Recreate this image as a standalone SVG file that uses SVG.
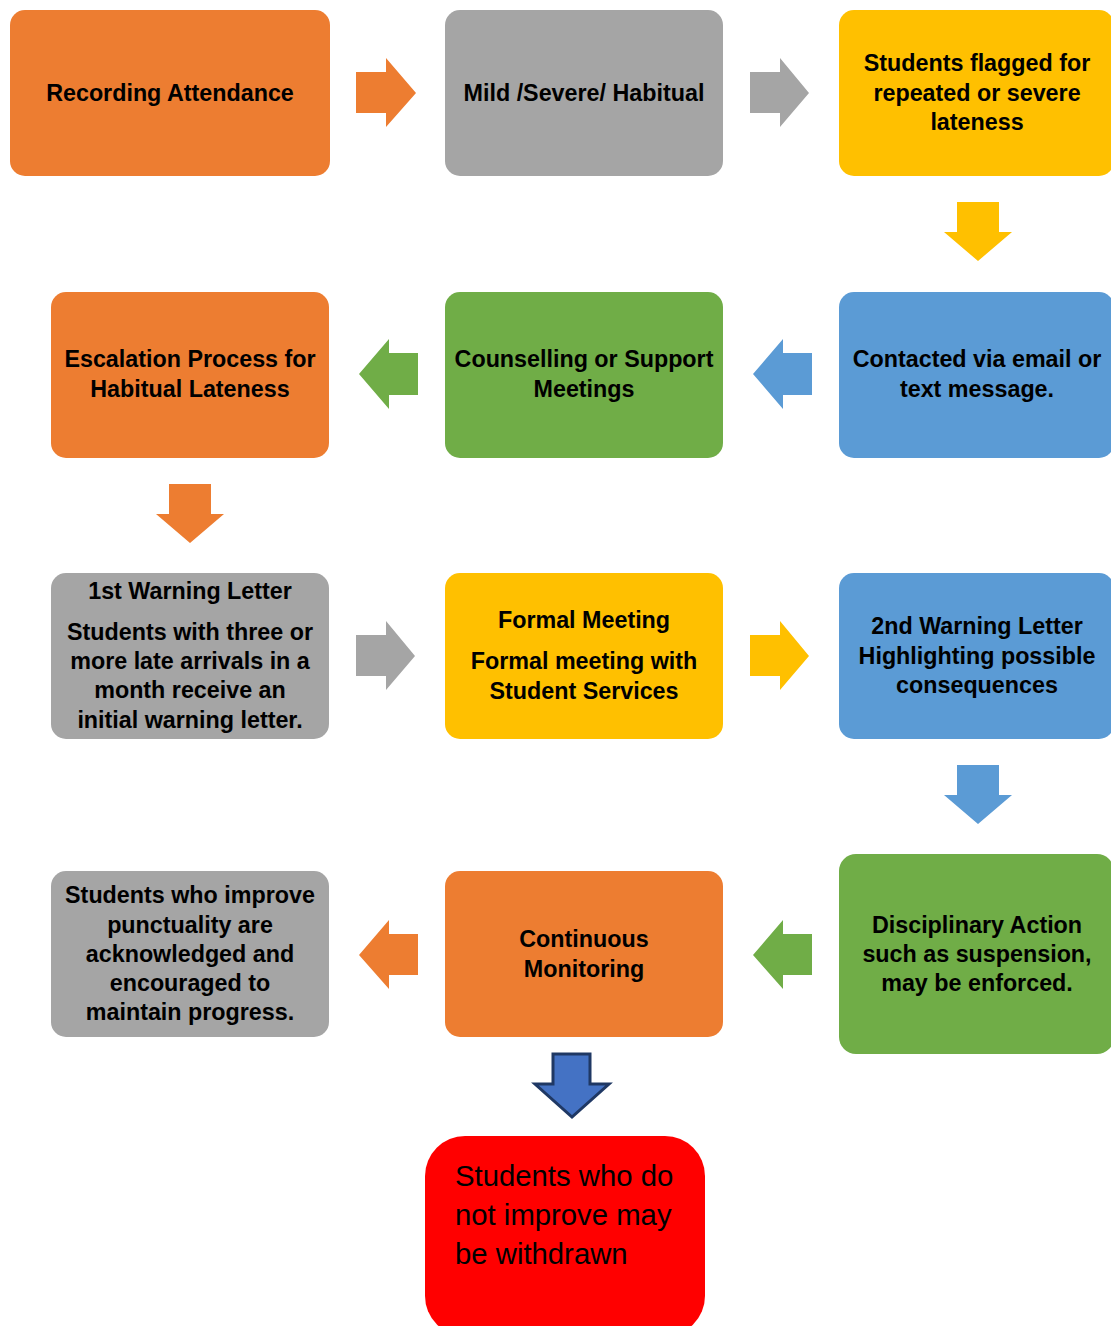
<svg xmlns="http://www.w3.org/2000/svg" width="1111" height="1326" viewBox="0 0 1111 1326">
<style>
.orange{fill:#ED7D31}.gray{fill:#A5A5A5}.yellow{fill:#FFC000}.blue{fill:#5B9BD5}.green{fill:#70AD47}.red{fill:#FF0000}
.t{font-family:"Liberation Sans",Arial,sans-serif;font-weight:bold;font-size:23.3px;fill:#000;text-anchor:middle}
.r{font-family:"Liberation Sans",Arial,sans-serif;font-size:29.3px;fill:#000}
.dn{fill:#4472C4;stroke:#1F3864;stroke-width:3;stroke-linejoin:miter}
</style>
<rect width="1111" height="1326" fill="#fff"/>
<g id="connectors">
<polygon class="orange" points="356,72 386,72 386,58 416,93 386,127 386,113 356,113"/>
<polygon class="gray" points="750,72 780,72 780,58 809,93 780,127 780,113 750,113"/>
<polygon class="yellow" points="957,202 999,202 999,232 1012,232 978,261 944,232 957,232"/>
<polygon class="blue" points="812,353 783,353 783,339 753,374 783,409 783,395 812,395"/>
<polygon class="green" points="418,353 389,353 389,339 359,374 389,409 389,395 418,395"/>
<polygon class="orange" points="169,484 211,484 211,514 224,514 190,543 156,514 169,514"/>
<polygon class="gray" points="356,635 386,635 386,621 415,656 386,690 386,676 356,676"/>
<polygon class="yellow" points="750,635 780,635 780,621 809,656 780,690 780,676 750,676"/>
<polygon class="blue" points="957,765 999,765 999,795 1012,795 978,824 944,795 957,795"/>
<polygon class="green" points="812,934 783,934 783,920 753,955 783,989 783,975 812,975"/>
<polygon class="orange" points="418,934 389,934 389,920 359,955 389,989 389,975 418,975"/>
<polygon class="dn" points="553,1054 590,1054 590,1084 609,1084 572,1117 535,1084 553,1084"/>
</g>
<g id="n1"><rect class="orange" x="10" y="10" width="320" height="166" rx="15"/><text class="t" x="170" y="101">Recording Attendance</text></g>
<g id="n2"><rect class="gray" x="445" y="10" width="278" height="166" rx="15"/><text class="t" x="584" y="101">Mild /Severe/ Habitual</text></g>
<g id="n3"><rect class="yellow" x="839" y="10" width="275" height="166" rx="15"/><text class="t" x="977" y="71">Students flagged for</text><text class="t" x="977" y="101">repeated or severe</text><text class="t" x="977" y="130">lateness</text></g>
<g id="n4"><rect class="orange" x="51" y="292" width="278" height="166" rx="15"/><text class="t" x="190" y="367">Escalation Process for</text><text class="t" x="190" y="397">Habitual Lateness</text></g>
<g id="n5"><rect class="green" x="445" y="292" width="278" height="166" rx="15"/><text class="t" x="584" y="367">Counselling or Support</text><text class="t" x="584" y="397">Meetings</text></g>
<g id="n6"><rect class="blue" x="839" y="292" width="275" height="166" rx="15"/><text class="t" x="977" y="367">Contacted via email or</text><text class="t" x="977" y="397">text message.</text></g>
<g id="n7"><rect class="gray" x="51" y="573" width="278" height="166" rx="15"/><text class="t" x="190" y="599">1st Warning Letter</text><text class="t" x="190" y="640">Students with three or</text><text class="t" x="190" y="669">more late arrivals in a</text><text class="t" x="190" y="698">month receive an</text><text class="t" x="190" y="728">initial warning letter.</text></g>
<g id="n8"><rect class="yellow" x="445" y="573" width="278" height="166" rx="15"/><text class="t" x="584" y="628">Formal Meeting</text><text class="t" x="584" y="669">Formal meeting with</text><text class="t" x="584" y="699">Student Services</text></g>
<g id="n9"><rect class="blue" x="839" y="573" width="275" height="166" rx="15"/><text class="t" x="977" y="634">2nd Warning Letter</text><text class="t" x="977" y="664">Highlighting possible</text><text class="t" x="977" y="693">consequences</text></g>
<g id="n10"><rect class="gray" x="51" y="871" width="278" height="166" rx="15"/><text class="t" x="190" y="903">Students who improve</text><text class="t" x="190" y="933">punctuality are</text><text class="t" x="190" y="962">acknowledged and</text><text class="t" x="190" y="991">encouraged to</text><text class="t" x="190" y="1020">maintain progress.</text></g>
<g id="n11"><rect class="orange" x="445" y="871" width="278" height="166" rx="15"/><text class="t" x="584" y="947">Continuous</text><text class="t" x="584" y="977">Monitoring</text></g>
<g id="n12"><rect class="green" x="839" y="854" width="275" height="200" rx="17"/><text class="t" x="977" y="933">Disciplinary Action</text><text class="t" x="977" y="962">such as suspension,</text><text class="t" x="977" y="991">may be enforced.</text></g>
<g id="n13"><rect class="red" x="425" y="1136" width="280" height="200" rx="40"/><text class="r" x="455" y="1186">Students who do</text><text class="r" x="455" y="1225">not improve may</text><text class="r" x="455" y="1264">be withdrawn</text></g>
</svg>
